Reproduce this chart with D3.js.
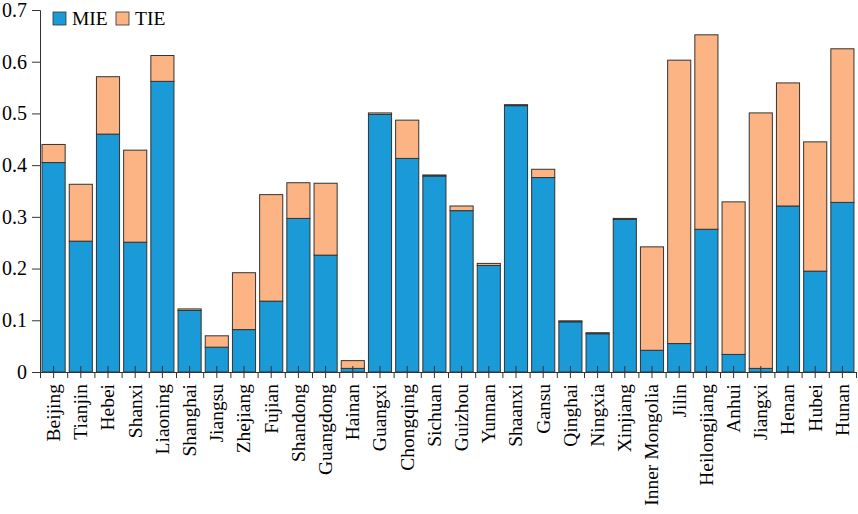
<!DOCTYPE html>
<html lang="en">
<head>
    <meta charset="UTF-8">
    <title>MIE / TIE by province</title>
    <script src="https://d3js.org/d3.v7.min.js"></script>
    <style>
        body { margin: 0; background: #fff; }
        text { font-family: "Liberation Serif", "Times New Roman", serif; }
    </style>
</head>
<body>
    <svg width="858" height="514"></svg>
    <script>
        // data
        const provinces = ["Beijing", "Tianjin", "Hebei", "Shanxi", "Liaoning", "Shanghai", "Jiangsu", "Zhejiang",
            "Fujian", "Shandong", "Guangdong", "Hainan", "Guangxi", "Chongqing", "Sichuan", "Guizhou", "Yunnan",
            "Shaanxi", "Gansu", "Qinghai", "Ningxia", "Xinjiang", "Inner Mongolia", "Jilin", "Heilongjiang",
            "Anhui", "Jiangxi", "Henan", "Hubei", "Hunan"];
        const mie = [0.405, 0.253, 0.460, 0.251, 0.562, 0.119, 0.048, 0.082, 0.137, 0.297, 0.226, 0.007,
            0.498, 0.413, 0.379, 0.312, 0.206, 0.515, 0.376, 0.097, 0.074, 0.295, 0.042, 0.055, 0.276,
            0.034, 0.007, 0.321, 0.195, 0.328];
        const tie = [0.035, 0.110, 0.111, 0.178, 0.050, 0.003, 0.022, 0.110, 0.206, 0.069, 0.139, 0.015,
            0.003, 0.074, 0.002, 0.009, 0.004, 0.002, 0.016, 0.002, 0.002, 0.002, 0.200, 0.548, 0.376,
            0.295, 0.494, 0.238, 0.250, 0.297];
        const yTicks = [0, 0.1, 0.2, 0.3, 0.4, 0.5, 0.6, 0.7];
        const seriesNames = ["MIE", "TIE"];
        const colors = ["#1a9bd8", "#fdb485"];

        const svg = d3.select("svg");
        const margin = { left: 40, top: 10, right: 2, bottom: 142 };
        const width = +svg.attr("width") - margin.left - margin.right,
            height = +svg.attr("height") - margin.top - margin.bottom;

        const g = svg.append("g").attr("transform", `translate(${margin.left},${margin.top})`);

        const table = provinces.map((p, i) => ({ name: p, MIE: mie[i], TIE: tie[i] }));
        const stack = d3.stack().keys(seriesNames)(table);

        const x = d3.scaleBand().domain(provinces).range([0, width]).paddingInner(0.15).paddingOuter(0.075);
        const y = d3.scaleLinear().domain([0, 0.7]).range([height, 0]);
        const edges = d3.scaleLinear().domain([0, provinces.length]).range([0, width]);

        // bars
        g.selectAll(".series")
            .data(stack)
            .join("g")
            .attr("fill", (d, i) => colors[i])
            .selectAll("rect")
            .data(d => d)
            .join("rect")
            .attr("x", d => x(d.data.name))
            .attr("width", x.bandwidth())
            .attr("y", d => y(d[1]))
            .attr("height", d => y(d[0]) - y(d[1]))
            .attr("stroke", "#333")
            .attr("stroke-width", 1);

        // y axis
        const yAxis = g.append("g")
            .call(d3.axisLeft(y).tickValues(yTicks).tickSize(8).tickPadding(5)
                .tickFormat(d => d === 0 ? "0" : d3.format(".1f")(d)));
        yAxis.selectAll("text").attr("font-size", "20px").attr("fill", "#000").attr("font-family", null);
        yAxis.selectAll("line, path").attr("stroke", "#333");

        // x axis: boundary ticks
        const xEdges = g.append("g")
            .attr("transform", `translate(0,${height})`)
            .call(d3.axisBottom(edges).ticks(provinces.length).tickSize(6).tickFormat(""));
        xEdges.selectAll("line, path").attr("stroke", "#333");

        // x axis: centre ticks with labels
        const xAxis = g.append("g")
            .attr("transform", `translate(0,${height})`)
            .call(d3.axisBottom(x).tickSize(6).tickPadding(4));
        xAxis.select(".domain").remove();
        xAxis.selectAll(".tick line").attr("y1", -6).attr("stroke", "#333");
        xAxis.selectAll(".tick text")
            .attr("font-size", "19.5px")
            .attr("font-family", null)
            .attr("fill", "#000")
            .attr("text-anchor", "end")
            .attr("transform", "rotate(-90)")
            .attr("x", -12)
            .attr("y", 0)
            .attr("dy", "0.33em");

        // legend
        const legend = g.append("g").attr("transform", "translate(13,2)");
        const items = legend.selectAll("g")
            .data(seriesNames)
            .join("g")
            .attr("transform", (d, i) => `translate(${i * 63},0)`);
        items.append("rect")
            .attr("width", 13)
            .attr("height", 13)
            .attr("fill", (d, i) => colors[i])
            .attr("stroke", "#333")
            .attr("stroke-width", 0.8);
        items.append("text")
            .attr("x", 19)
            .attr("y", 13)
            .attr("font-size", "19.5px")
            .text(d => d);
    </script>
</body>
</html>
